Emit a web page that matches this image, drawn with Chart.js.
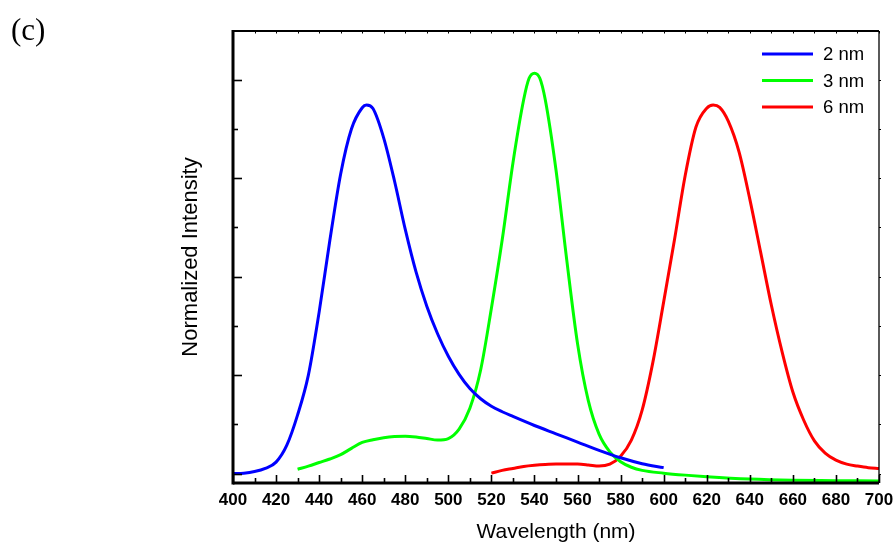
<!DOCTYPE html>
<html><head><meta charset="utf-8">
<script src="https://cdn.jsdelivr.net/npm/chart.js@4.4.1/dist/chart.umd.min.js"></script>
<style>html,body{margin:0;padding:0;background:#fff;}#wrap{width:894px;height:546px;position:relative;}</style>
</head><body><div id="wrap"><canvas id="c" width="894" height="546"></canvas></div>
<script>
// ---- data ----
const seriesLabels = ['2 nm', '3 nm', '6 nm'];
const seriesColors = ['#0000ff', '#00ff00', '#ff0000'];

const blueX = [400,405,410,415,420,425,430,435,440,445,450,455,460,462,465,470,475,480,485,490,495,500,505,510,515,520,525,530,540,550,560,570,580,590,600];
const blueY = [0.000,0.001,0.005,0.013,0.029,0.072,0.149,0.250,0.410,0.593,0.761,0.875,0.929,0.936,0.927,0.852,0.743,0.620,0.512,0.425,0.355,0.298,0.252,0.216,0.190,0.171,0.157,0.145,0.122,0.101,0.080,0.059,0.040,0.025,0.015];

const greenX = [430,435,440,445,450,455,460,465,470,475,480,485,490,495,500,505,510,515,520,525,530,535,537.5,540,542.5,545,550,555,560,565,570,575,580,585,590,600,610,620,640,660,680,700];
const greenY = [0.011,0.019,0.028,0.037,0.048,0.064,0.079,0.086,0.091,0.094,0.095,0.093,0.089,0.085,0.089,0.113,0.166,0.263,0.420,0.593,0.789,0.950,1.004,1.017,1.004,0.950,0.771,0.542,0.330,0.185,0.100,0.055,0.030,0.016,0.008,0.001,-0.004,-0.008,-0.014,-0.017,-0.018,-0.019];

const redX = [520,525,530,535,540,545,550,555,560,565,570,575,580,585,590,595,600,605,610,615,620,623,626,630,635,640,645,650,655,660,665,670,675,680,685,690,695,700];
const redY = [0.001,0.008,0.013,0.018,0.021,0.023,0.024,0.024,0.024,0.022,0.019,0.024,0.044,0.085,0.161,0.283,0.436,0.593,0.757,0.880,0.928,0.936,0.930,0.895,0.817,0.697,0.563,0.428,0.309,0.207,0.136,0.083,0.052,0.034,0.024,0.019,0.015,0.013];

const xMin = 400, xMax = 700, xLabelStep = 20;
const xMinorTicks = [400,410,420,430,440,450,460,470,480,490,500,510,520,530,540,550,560,570,580,590,600,610,620,630,640,650,660,670,680,690,700];
const yMin = -0.024, yMax = 1.124;
const yMajorTicks = [0, 0.25, 0.5, 0.75, 1.0];
const yMediumTicks = [0.125, 0.375, 0.625, 0.875];

const toPts = (xs, ys) => xs.map((x, i) => ({x, y: ys[i]}));

const FONT = '"Liberation Sans", Arial, Helvetica, sans-serif';

const framePlugin = {
  id: 'frame',
  afterDatasetsDraw(chart) {
    const {ctx, chartArea: a, scales: {x, y}} = chart;
    ctx.save();
    ctx.strokeStyle = '#000';
    const seg = (x1, y1, x2, y2, w) => { ctx.lineWidth = w; ctx.beginPath(); ctx.moveTo(x1, y1); ctx.lineTo(x2, y2); ctx.stroke(); };
    xMinorTicks.forEach(w => {
      const px = Math.round(x.getPixelForValue(w)) + 0.5;
      const major = (w - xMin) % xLabelStep === 0;
      seg(px, a.bottom, px, a.bottom - (major ? 8 : 5), 1.6);
      seg(px, a.top, px, a.top + 2.5, 1);
    });
    yMajorTicks.forEach(v => {
      const py = Math.round(y.getPixelForValue(v)) + 0.5;
      seg(a.left, py, a.left + 9, py, 1.6);
      seg(a.right, py, a.right + 2, py, 1);
    });
    yMediumTicks.forEach(v => {
      const py = Math.round(y.getPixelForValue(v)) + 0.5;
      seg(a.left, py, a.left + 5, py, 1.6);
      seg(a.right, py, a.right + 2, py, 1);
    });
    seg(a.left, a.top, a.right, a.top, 2);
    seg(a.right, a.top, a.right, a.bottom, 1.3);
    seg(a.left, a.bottom, a.right, a.bottom, 3);
    seg(a.left, a.top - 1, a.left, a.bottom + 1.5, 3);
    ctx.restore();
  },
  afterDraw(chart) {
    const {ctx} = chart;
    ctx.save();
    chart.data.datasets.forEach((ds, i) => {
      const cy = 54 + i * 26.5;
      ctx.strokeStyle = ds.borderColor; ctx.lineWidth = 3;
      ctx.beginPath(); ctx.moveTo(762, cy); ctx.lineTo(813, cy); ctx.stroke();
      ctx.fillStyle = '#000'; ctx.font = '18.5px ' + FONT;
      ctx.textBaseline = 'middle'; ctx.textAlign = 'left';
      ctx.fillText(ds.label, 823, cy + 1);
    });
    ctx.fillStyle = '#000';
    ctx.font = '31px "Liberation Serif", "Times New Roman", serif';
    ctx.textBaseline = 'middle'; ctx.textAlign = 'left';
    ctx.fillText('(c)', 11, 32);
    ctx.restore();
  }
};

new Chart(document.getElementById('c'), {
  type: 'line',
  data: {
    datasets: [
      {label: seriesLabels[0], data: toPts(blueX, blueY), borderColor: seriesColors[0]},
      {label: seriesLabels[1], data: toPts(greenX, greenY), borderColor: seriesColors[1]},
      {label: seriesLabels[2], data: toPts(redX, redY), borderColor: seriesColors[2]}
    ].map(d => Object.assign(d, {borderWidth: 3, pointRadius: 0, fill: false, cubicInterpolationMode: 'monotone', backgroundColor: d.borderColor}))
  },
  options: {
    responsive: false,
    animation: false,
    devicePixelRatio: 1,
    layout: {padding: {left: 178, top: 31, right: 15, bottom: 0}},
    plugins: {legend: {display: false}, tooltip: {enabled: false}},
    scales: {
      x: {
        type: 'linear', min: xMin, max: xMax,
        grid: {display: false, drawTicks: false},
        border: {display: false},
        ticks: {stepSize: xLabelStep, autoSkip: false, maxRotation: 0, padding: 7, color: '#000',
                font: {family: FONT, size: 17, weight: 'bold'}},
        title: {display: true, text: 'Wavelength (nm)', color: '#000', padding: {top: 0, bottom: 1},
                font: {family: FONT, size: 21}},
        afterFit(s) { s.height = 63; s.paddingLeft = 0; s.paddingRight = 0; }
      },
      y: {
        type: 'linear', min: yMin, max: yMax,
        grid: {display: false, drawTicks: false},
        border: {display: false},
        ticks: {display: false},
        title: {display: true, text: 'Normalized Intensity', color: '#000', padding: 0,
                font: {family: FONT, size: 22}},
        afterFit(s) { s.width = 55; s.paddingTop = 0; s.paddingBottom = 0; }
      }
    }
  },
  plugins: [framePlugin]
});
</script>
</body></html>
